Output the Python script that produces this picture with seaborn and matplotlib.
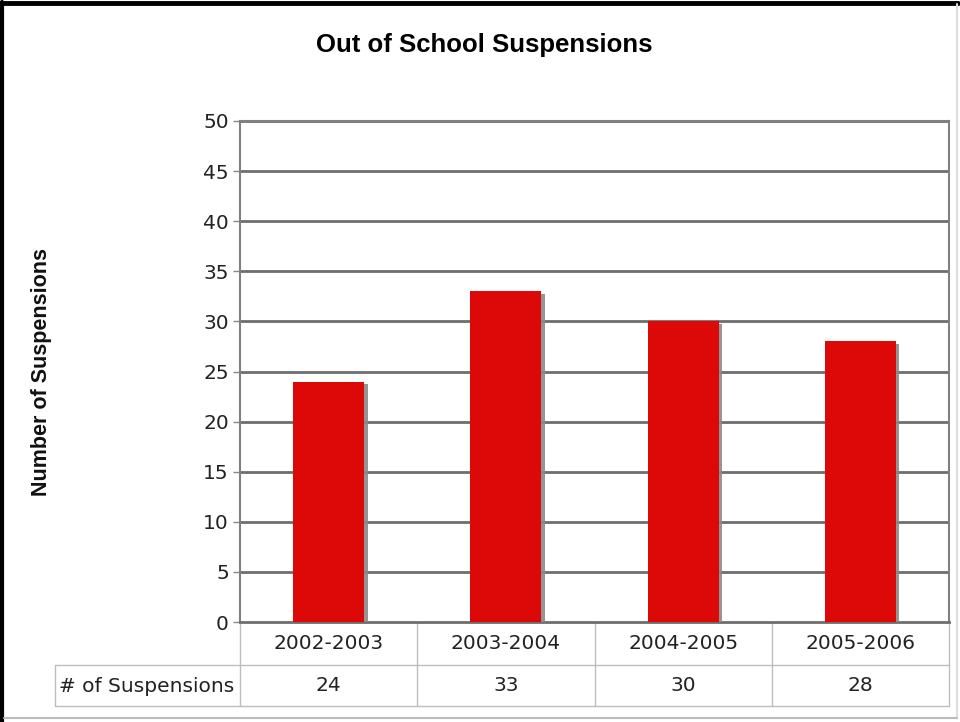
import matplotlib
matplotlib.use("Agg")
import matplotlib.pyplot as plt
import matplotlib.patheffects as pe
from matplotlib.lines import Line2D
import matplotlib.transforms as mtransforms
import seaborn as sns
import pandas as pd

# School years and suspension counts
years = ["2002-2003", "2003-2004", "2004-2005", "2005-2006"]
suspensions = [24, 33, 30, 28]
series_name = "# of Suspensions"
y_ticks = [0, 5, 10, 15, 20, 25, 30, 35, 40, 45, 50]

df = pd.DataFrame({"year": years, "count": suspensions})

sns.set_theme(style="white")
plt.rcParams["font.family"] = ["DejaVu Sans"]

fig = plt.figure(figsize=(9.6, 7.22), dpi=100)
W, H = 960, 722
ax = fig.add_axes([240 / W, 1 - 622 / H, (949 - 240) / W, (622 - 121) / H])

sns.barplot(data=df, x="year", y="count", color="#DD0808", width=0.4,
            saturation=1, ax=ax, zorder=3)
for bar in ax.patches:
    bar.set_edgecolor("none")
    bar.set_path_effects([pe.SimplePatchShadow(offset=(2.5, -2), shadow_rgbFace="#8a8a8a", alpha=0.9),
                          pe.Normal()])

txt_size = 14.5
ax.set_xlim(-0.5, len(years) - 0.5)
ax.set_ylim(0, 50)
ax.set_yticks(y_ticks)
ax.set_yticklabels([str(t) for t in y_ticks], fontsize=txt_size, color="#222222")
ax.set_xticks([])
ax.set_xlabel("")
ax.set_ylabel("Number of Suspensions", fontsize=15.5, fontweight="bold",
              family=["Liberation Sans", "DejaVu Sans"], color="#111111", labelpad=0)
ax.yaxis.set_label_coords(-0.265, 0.5)
ax.tick_params(axis="y", length=5, width=1, color="#888888", pad=3, left=True)

for t in y_ticks[1:]:
    ax.axhline(t, color="#6e6e6e", lw=2, zorder=1)
for side in ["left", "right", "top", "bottom"]:
    ax.spines[side].set_visible(True)
    ax.spines[side].set_color("#808080")
    ax.spines[side].set_linewidth(1.5)
ax.spines["bottom"].set_color("#6e6e6e")
ax.spines["bottom"].set_linewidth(2)

fig.text(484 / W, 1 - 45 / H, "Out of School Suspensions", ha="center", va="center",
         fontsize=18.5, fontweight="bold", family=["Liberation Sans", "DejaVu Sans"],
         color="#000000")

# Data table below the plot
trans = mtransforms.blended_transform_factory(ax.transData, ax.transAxes)
ax_h = 622 - 121
row1 = -(665 - 622) / ax_h
row2 = -(706 - 622) / ax_h
line_kw = dict(color="#bdbdbd", lw=1, transform=trans, clip_on=False)
for i in range(len(years) + 1):
    x = i - 0.5
    ax.add_line(Line2D([x, x], [0, row2], **line_kw))
ax.add_line(Line2D([-0.5, len(years) - 0.5], [row1, row1], **line_kw))
ax.add_line(Line2D([-0.5, len(years) - 0.5], [row2, row2], **line_kw))

fig.add_artist(Line2D([55 / W, 240 / W], [1 - 665 / H, 1 - 665 / H], color="#bdbdbd", lw=1))
fig.add_artist(Line2D([55 / W, 240 / W], [1 - 706 / H, 1 - 706 / H], color="#bdbdbd", lw=1))
fig.add_artist(Line2D([55 / W, 55 / W], [1 - 665 / H, 1 - 706 / H], color="#bdbdbd", lw=1))

for i, (yr, v) in enumerate(zip(years, suspensions)):
    ax.text(i, (0 + row1) / 2, yr, transform=trans, ha="center", va="center",
            fontsize=txt_size, color="#222222")
    ax.text(i, (row1 + row2) / 2, str(v), transform=trans, ha="center", va="center",
            fontsize=txt_size, color="#222222")
fig.text(59 / W, 1 - 686 / H, series_name, ha="left", va="center",
         fontsize=txt_size, color="#222222")

# Outer frame
fig.add_artist(Line2D([2 / W, 2 / W], [0, 1 - 2 / H], color="black", lw=3))
fig.add_artist(Line2D([0, 958 / W], [1 - 3 / H, 1 - 3 / H], color="black", lw=3.5))
fig.add_artist(Line2D([957 / W, 957 / W], [1 - 718 / H, 1 - 4 / H], color="#dddddd", lw=1.5))
fig.add_artist(Line2D([4 / W, 957 / W], [1 - 718 / H, 1 - 718 / H], color="#bbbbbb", lw=1.5))

fig.savefig("out.png", dpi=100, facecolor="white")
